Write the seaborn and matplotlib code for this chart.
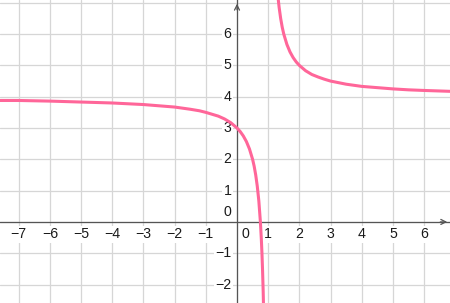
import matplotlib
matplotlib.use("Agg")
import matplotlib.pyplot as plt
import seaborn as sns
import pandas as pd
from matplotlib.transforms import offset_copy

# Values (left and right branches of the curve)
left_x = [-7.6, -7.0, -6.0, -5.0, -4.0, -3.0, -2.5, -2.0, -1.5, -1.2, -1.0, -0.8, -0.6,
          -0.4, -0.2, 0.0, 0.1, 0.2, 0.3, 0.4, 0.5, 0.55, 0.6, 0.65, 0.7, 0.75, 0.78,
          0.8, 0.82, 0.84, 0.86]
left_y = [3.88, 3.88, 3.86, 3.83, 3.80, 3.75, 3.71, 3.67, 3.60, 3.55, 3.50, 3.44, 3.38,
          3.29, 3.17, 3.00, 2.89, 2.75, 2.57, 2.33, 2.00, 1.78, 1.50, 1.14, 0.67, 0.00,
          -0.55, -1.00, -1.56, -2.25, -3.14]
right_x = [1.30, 1.32, 1.35, 1.40, 1.45, 1.50, 1.60, 1.70, 1.80, 1.90, 2.00, 2.20, 2.40,
           2.60, 2.80, 3.00, 3.50, 4.00, 4.50, 5.00, 5.50, 6.00, 6.90]
right_y = [7.33, 7.13, 6.86, 6.50, 6.22, 6.00, 5.67, 5.43, 5.25, 5.11, 5.00, 4.83, 4.71,
           4.63, 4.56, 4.50, 4.40, 4.33, 4.29, 4.25, 4.22, 4.20, 4.17]

x_ticks = [-7, -6, -5, -4, -3, -2, -1, 1, 2, 3, 4, 5, 6]
y_ticks = [-2, -1, 1, 2, 3, 4, 5, 6]

XMIN, XMAX = -7.6, 6.83
YMIN, YMAX = -2.59, 7.09

CURVE = "#ff6699"
AXIS = "#555555"
GRID = "#d6d6d6"
TEXT = "#1a1a1a"

sns.set_style("white")
plt.rcParams["font.family"] = ["Liberation Sans", "DejaVu Sans"]

fig = plt.figure(figsize=(4.5, 3.03), dpi=100)
ax = fig.add_axes([0, 0, 1, 1])

# grid
for v in range(-7, 7):
    ax.axvline(v, color=GRID, lw=0.9, zorder=0)
for v in range(-2, 8):
    ax.axhline(v, color=GRID, lw=0.9, zorder=0)

# axes through the origin
ax.spines["left"].set_position(("data", 0))
ax.spines["bottom"].set_position(("data", 0))
ax.spines["right"].set_visible(False)
ax.spines["top"].set_visible(False)
for s in ("left", "bottom"):
    ax.spines[s].set_color(AXIS)
    ax.spines[s].set_linewidth(0.9)
    ax.spines[s].set_zorder(2)
ax.set_xticks(x_ticks)
ax.set_yticks(y_ticks)
ax.tick_params(direction="out", length=3, width=0.9, color=AXIS,
               labelbottom=False, labelleft=False)

# curve
df_l = pd.DataFrame({"x": left_x, "y": left_y})
df_r = pd.DataFrame({"x": right_x, "y": right_y})
sns.lineplot(data=df_l, x="x", y="y", sort=False, estimator=None, color=CURVE, lw=2.2, ax=ax, zorder=3)
sns.lineplot(data=df_r, x="x", y="y", sort=False, estimator=None, color=CURVE, lw=2.2, ax=ax, zorder=3)
ax.set_xlim(XMIN, XMAX)
ax.set_ylim(YMIN, YMAX)
ax.set_xlabel("")
ax.set_ylabel("")

# arrows
ax.annotate("", xy=(XMAX, 0), xytext=(XMAX - 0.4, 0),
            arrowprops=dict(arrowstyle="->", color=AXIS, lw=0.9, mutation_scale=9), zorder=2)
ax.annotate("", xy=(0, YMAX - 0.03), xytext=(0, YMAX - 0.4),
            arrowprops=dict(arrowstyle="->", color=AXIS, lw=0.9, mutation_scale=9), zorder=2)

box = dict(boxstyle="square,pad=0.1", fc="white", ec="none")
fs = 10.2
tdown = offset_copy(ax.transData, fig=fig, x=0, y=-4, units="points")
tleft = offset_copy(ax.transData, fig=fig, x=-4, y=0, units="points")
for v in x_ticks:
    lab = str(v).replace("-", "\u2212")
    ax.text(v, 0, lab, transform=tdown, ha="center", va="top", fontsize=fs,
            color=TEXT, bbox=box, zorder=1)
for v in y_ticks:
    lab = str(v).replace("-", "\u2212")
    ax.text(0, v, lab, transform=tleft, ha="right", va="center", fontsize=fs,
            color=TEXT, bbox=box, zorder=1)
t0y = offset_copy(ax.transData, fig=fig, x=-4, y=2, units="points")
ax.text(0, 0, "0", transform=t0y, ha="right", va="bottom", fontsize=fs, color=TEXT, bbox=box, zorder=1)
t0x = offset_copy(ax.transData, fig=fig, x=3, y=-4, units="points")
ax.text(0, 0, "0", transform=t0x, ha="left", va="top", fontsize=fs, color=TEXT, bbox=box, zorder=1)

fig.savefig("out.png", dpi=100)
